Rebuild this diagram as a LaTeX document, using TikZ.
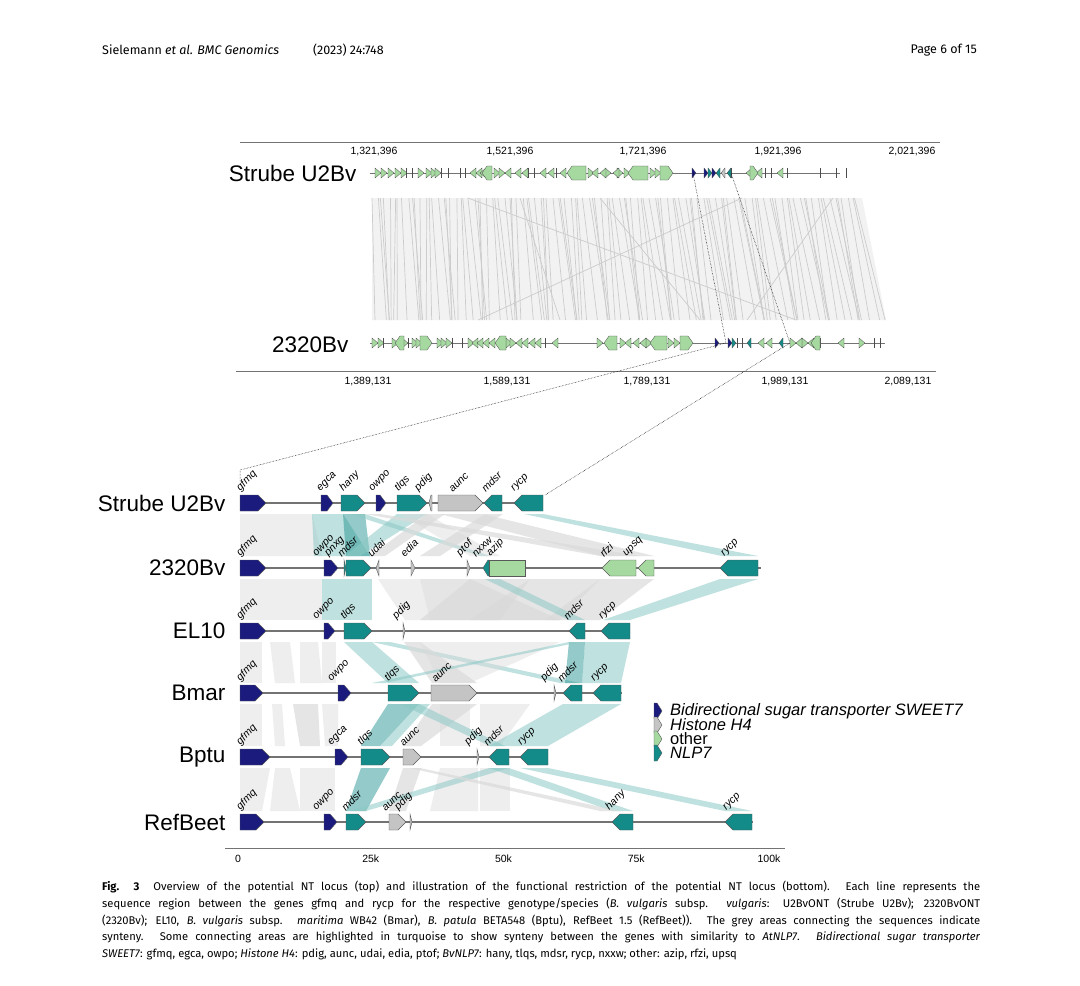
\documentclass[tikz,border=0pt]{standalone}
\usepackage{fontspec}
\setmainfont{Liberation Sans}
\newfontfamily\capfont{Fira Sans}
\definecolor{navy}{HTML}{1B1B7E}
\definecolor{teal2}{HTML}{138B88}
\definecolor{hgrey}{HTML}{C4C4C4}
\definecolor{ogreen}{HTML}{A6D9A0}
\definecolor{tband}{HTML}{8CC9C5}
\definecolor{gband}{HTML}{DADADA}
\newcommand\gR[5]{\filldraw[fill=#5,draw=black!65,line width=0.4] (#1,#3-8) -- (#2-#4,#3-8) -- (#2,#3) -- (#2-#4,#3+8) -- (#1,#3+8) -- cycle;}
\newcommand\gL[5]{\filldraw[fill=#5,draw=black!65,line width=0.4] (#2,#3-8) -- (#1+#4,#3-8) -- (#1,#3) -- (#1+#4,#3+8) -- (#2,#3+8) -- cycle;}
\newcommand\glab[3]{\node[glab] at (#1,#2-10) {#3};}
\newcommand\band[7]{\fill[#7] (#1,#3) -- (#2,#3) -- (#5,#6) -- (#4,#6) -- cycle;}
\newcommand\gtR[2]{\filldraw[fill=ogreen,draw=black!70,line width=0.3] (#1,#2-5) -- (#1+6,#2) -- (#1,#2+5) -- cycle;}
\newcommand\gtL[2]{\filldraw[fill=ogreen,draw=black!70,line width=0.3] (#1+6,#2-5) -- (#1,#2) -- (#1+6,#2+5) -- cycle;}
\newcommand\gtT[2]{\draw[black!70,line width=0.5] (#1,#2-5) -- (#1,#2+5);}
\newcommand\bigR[3]{\filldraw[fill=ogreen,draw=black!70,line width=0.3] (#1,#3-7) -- (#2-5,#3-7) -- (#2,#3) -- (#2-5,#3+7) -- (#1,#3+7) -- cycle;}
\newcommand\bigL[3]{\filldraw[fill=ogreen,draw=black!70,line width=0.3] (#2,#3-7) -- (#1+5,#3-7) -- (#1,#3) -- (#1+5,#3+7) -- (#2,#3+7) -- cycle;}
\newcommand\colR[3]{\filldraw[fill=#3,draw=black!70,line width=0.3] (#1,#2-5) -- (#1+4,#2) -- (#1,#2+5) -- cycle;}
\newcommand\colL[3]{\filldraw[fill=#3,draw=black!70,line width=0.3] (#1+4,#2-5) -- (#1,#2) -- (#1+4,#2+5) -- cycle;}
\tikzset{
 glab/.style={anchor=south west,rotate=45,inner sep=0,font=\fontsize{10.5}{11}\selectfont\itshape},
 tlab/.style={anchor=east,font=\fontsize{22.5}{24}\selectfont},
 ticklab/.style={font=\fontsize{10.5}{11}\selectfont},
 track/.style={draw=black!55,line width=1.1},
 gb/.style={fill=gband,opacity=0.45},
 gbd/.style={fill=gband,opacity=0.7},
 tb/.style={fill=tband,opacity=0.55},
 tbd/.style={fill=teal2,opacity=0.45},
 dotl/.style={densely dotted,line width=0.5},
 captxt/.style={anchor=north west,inner sep=0,font=\capfont\fontsize{11.2}{13}\selectfont}
}
\begin{document}
\begin{tikzpicture}[x=1pt,y=-1pt]
\useasboundingbox (0,0) rectangle (1080,986);
\fill[white] (0,0) rectangle (1080,986);
% header
\node[anchor=west,inner sep=0,font=\capfont\fontsize{12.5}{13}\selectfont] (hd) at (102,50) {Sielemann \textit{et al. BMC Genomics}\hspace{34pt}(2023) 24:748};
\node[anchor=east,inner sep=0,font=\capfont\fontsize{12.5}{13}\selectfont] (pg) at (977,50) {Page 6 of 15};
% ===== top overview =====
\draw[black!55,line width=1] (240,142) -- (940,142);
\draw[black!55,line width=1] (236,371) -- (936,371);
\node[ticklab] (tt1) at (374,152) {1,321,396};
\node[ticklab] (tt2) at (510,152) {1,521,396};
\node[ticklab] (tt3) at (643,152) {1,721,396};
\node[ticklab] (tt4) at (778,152) {1,921,396};
\node[ticklab] (tt5) at (912,152) {2,021,396};
\node[ticklab] (bt1) at (368,381) {1,389,131};
\node[ticklab] (bt2) at (507,381) {1,589,131};
\node[ticklab] (bt3) at (647,381) {1,789,131};
\node[ticklab] (bt4) at (785,381) {1,989,131};
\node[ticklab] (bt5) at (908,381) {2,089,131};
\node[tlab] (sU) at (360,173) {Strube U2Bv};
\node[tlab] (s23) at (352,345) {2320Bv};
% synteny region
\fill[black!5] (372,198) -- (862,198) -- (886,320) -- (372,320) -- cycle;
\begin{scope}[line width=0.7,draw=black!20]
\foreach \i in {0,...,110}{
  \pgfmathsetmacro{\xa}{372+\i*4.4+2*sin(\i*97)}
  \pgfmathsetmacro{\xb}{\xa+\i*0.2+6*sin(\i*53)+3}
  \draw (\xa,198) -- (\xb,320);
}
\draw (468,198) -- (796,320);
\draw (742,198) -- (478,320);
\draw (833,198) -- (747,320);
\draw (520,198) -- (560,320);
\draw (600,198) -- (700,320);
\end{scope}
% tracks top
\draw[track,line width=0.9] (370,173) -- (840,173);
\draw[track,line width=0.9] (370,343) -- (885,343);
\foreach \x in {375,381,388,395,401,418,426,431,435,494,499,588,605,617,624,650,655} {\gtR{\x}{173}}
\foreach \x in {470,476,480,505,515,522,540,548,560,592,600,613,746,756,777} {\gtL{\x}{173}}
\foreach \x in {406,412,441,448,460,465,528,534,556,765,771,787,820,836,846} {\gtT{\x}{173}}
\bigL{482}{492}{173}
\bigL{567}{586}{173}
\bigL{628}{648}{173}
\bigR{660}{673}{173}
\bigR{750}{758}{173}
\colR{692}{173}{navy}
\colR{704}{173}{navy}
\colR{708}{173}{teal2}
\colR{712}{173}{navy}
\colL{716}{173}{teal2}
\colL{721}{173}{hgrey}
\colL{727}{173}{teal2}
\gtT{731}{173}
%
\foreach \x in {372,378,392,402,412,416,437,441,446,468,506,510,597,620,646,668,674,790,802,859} {\gtR{\x}{343}}
\foreach \x in {472,477,483,489,516,522,529,535,552,625,633,640,758,766,796,808,838} {\gtL{\x}{343}}
\foreach \x in {383,408,452,462,545,737,742,820,874,880} {\gtT{\x}{343}}
\bigL{395}{404}{343}
\bigR{420}{432}{343}
\bigL{495}{506}{343}
\bigL{604}{617}{343}
\bigL{650}{667}{343}
\bigR{680}{693}{343}
\bigL{811}{820}{343}
\colR{715}{343}{navy}
\colR{728}{343}{navy}
\colR{732}{343}{teal2}
\colL{747}{343}{teal2}
\colL{779}{343}{teal2}
% dotted zoom lines
\coordinate (z1) at (693,173);
\coordinate (z2) at (726,343);
\coordinate (z3) at (731,173);
\coordinate (z4) at (790,343);
\coordinate (z5) at (240,470);
\coordinate (z6) at (240,484);
\coordinate (z7) at (545,495);
\draw[dotl] (z1) -- (z2) -- (z5) -- (z6);
\draw[dotl] (z3) -- (z4) -- (z7);
% ===== bottom detailed =====
\band{240}{312}{514}{240}{322}{556}{gb}
\band{312}{343}{514}{314}{370}{556}{tb}
\band{343}{365}{514}{346}{370}{556}{tbd}
\band{350}{365}{514}{480}{490}{556}{tb}
\band{397}{427}{514}{345}{360}{556}{tb}
\band{440}{483}{514}{602}{654}{556}{gbd}
\band{400}{427}{514}{470}{500}{556}{gb}
\band{427}{445}{514}{370}{385}{556}{gbd}
\band{485}{503}{514}{420}{440}{556}{gbd}
\band{365}{380}{514}{600}{640}{556}{gbd}
\band{524}{543}{514}{722}{758}{556}{tb}
\band{240}{322}{579}{240}{322}{620}{gb}
\band{322}{372}{579}{322}{372}{620}{tb}
\band{378}{420}{579}{405}{430}{620}{gb}
\band{420}{470}{579}{430}{560}{620}{gbd}
\band{470}{530}{579}{420}{500}{620}{gbd}
\band{530}{600}{579}{470}{560}{620}{gbd}
\band{600}{654}{579}{545}{600}{620}{gbd}
\band{485}{500}{579}{569}{585}{620}{tb}
\band{720}{758}{579}{603}{630}{620}{tb}
\band{240}{262}{642}{240}{262}{683}{gb}
\band{270}{290}{642}{275}{295}{683}{gb}
\band{300}{318}{642}{300}{322}{683}{gb}
\band{322}{336}{642}{322}{336}{683}{gb}
\band{344}{372}{642}{388}{419}{683}{tb}
\band{372}{390}{642}{560}{580}{683}{tb}
\band{404}{420}{642}{432}{477}{683}{gbd}
\band{420}{560}{642}{440}{470}{683}{gb}
\band{585}{630}{642}{582}{621}{683}{tb}
\band{569}{585}{642}{565}{582}{683}{tbd}
\band{569}{580}{642}{372}{385}{683}{tb}
\band{240}{262}{704}{240}{262}{746}{gb}
\band{272}{282}{704}{275}{285}{746}{gb}
\band{293}{318}{704}{300}{320}{746}{gbd}
\band{322}{338}{704}{325}{338}{746}{gb}
\band{388}{419}{704}{361}{380}{746}{tbd}
\band{419}{430}{704}{380}{392}{746}{tb}
\band{432}{477}{704}{403}{421}{746}{gbd}
\band{440}{470}{704}{440}{470}{746}{gb}
\band{480}{530}{704}{480}{500}{746}{gb}
\band{563}{621}{704}{489}{548}{746}{tb}
\band{400}{419}{704}{490}{505}{746}{tb}
\band{240}{270}{768}{240}{262}{811}{gb}
\band{275}{290}{768}{270}{300}{811}{gb}
\band{300}{335}{768}{300}{335}{811}{gb}
\band{403}{421}{768}{389}{406}{811}{gbd}
\band{440}{478}{768}{430}{478}{811}{gb}
\band{480}{510}{768}{480}{510}{811}{gb}
\band{361}{390}{768}{346}{366}{811}{tbd}
\band{489}{509}{768}{612}{633}{811}{tb}
\band{520}{548}{768}{725}{752}{811}{tb}
\band{489}{509}{768}{350}{366}{811}{tb}
\band{410}{420}{768}{600}{620}{811}{gbd}
% track labels
\node[tlab] (l1) at (229,503) {Strube U2Bv};
\node[tlab] (l2) at (229,568) {2320Bv};
\node[tlab] (l3) at (229,631) {EL10};
\node[tlab] (l4) at (229,693) {Bmar};
\node[tlab] (l5) at (229,757) {Bptu};
\node[tlab] (l6) at (229,822) {RefBeet};
\draw[track] (240,503) -- (543,503);
\draw[track] (240,568) -- (761,568);
\draw[track] (240,631) -- (630,631);
\draw[track] (240,693) -- (622,693);
\draw[track] (240,757) -- (548,757);
\draw[track] (240,822) -- (753,822);
% Strube
\gR{240}{266}{503}{8}{navy}\glab{242}{503}{gfmq}
\gR{321}{333}{503}{6}{navy}\glab{322}{503}{egca}
\gR{341}{365}{503}{8}{teal2}\glab{345}{503}{hany}
\gR{376}{386}{503}{6}{navy}\glab{374}{503}{owpo}
\gR{397}{427}{503}{8}{teal2}\glab{400}{503}{tlqs}
\gL{429}{432}{503}{2}{hgrey}\glab{420}{503}{pdig}
\gR{438}{483}{503}{8}{hgrey}\glab{453}{503}{aunc}
\gL{484}{502}{503}{8}{teal2}\glab{486}{503}{mdsr}
\gL{514}{543}{503}{8}{teal2}\glab{516}{503}{rycp}
% 2320Bv
\gR{240}{266}{568}{8}{navy}\glab{242}{568}{gfmq}
\gR{324}{338}{568}{7}{navy}\glab{318}{568}{owpo}
\gR{344}{346}{568}{2}{teal2}\glab{330}{568}{pnxg}
\gR{346}{371}{568}{8}{teal2}\glab{342}{568}{mdsr}
\gL{376}{379}{568}{3}{hgrey}\glab{372}{568}{udai}
\gR{411}{415}{568}{4}{hgrey}\glab{405}{568}{edia}
\gR{467}{470}{568}{3}{hgrey}\glab{462}{568}{ptof}
\gL{483}{489}{568}{5}{teal2}\glab{476}{568}{nxxw}
\filldraw[fill=ogreen,draw=black!65,line width=0.4] (489,560) rectangle (525,576);
\glab{492}{568}{azip}
\gL{602}{636}{568}{8}{ogreen}\glab{604}{568}{rfzi}
\gL{638}{654}{568}{8}{ogreen}\glab{628}{568}{upsq}
\gL{720}{758}{568}{8}{teal2}\glab{726}{568}{rycp}
% EL10
\gR{240}{266}{631}{8}{navy}\glab{242}{631}{gfmq}
\gR{324}{335}{631}{7}{navy}\glab{318}{631}{owpo}
\gR{344}{372}{631}{8}{teal2}\glab{346}{631}{tlqs}
\gR{403}{405}{631}{2}{hgrey}\glab{398}{631}{pdig}
\gL{569}{585}{631}{8}{teal2}\glab{568}{631}{mdsr}
\gL{601}{630}{631}{8}{teal2}\glab{604}{631}{rycp}
% Bmar
\gR{240}{263}{693}{8}{navy}\glab{242}{693}{gfmq}
\gR{338}{351}{693}{7}{navy}\glab{333}{693}{owpo}
\gR{388}{419}{693}{8}{teal2}\glab{390}{693}{tlqs}
\gR{431}{477}{693}{8}{hgrey}\glab{436}{693}{aunc}
\gR{554}{556}{693}{2}{hgrey}\glab{546}{693}{pdig}
\gL{563}{582}{693}{8}{teal2}\glab{562}{693}{mdsr}
\gL{593}{621}{693}{8}{teal2}\glab{596}{693}{rycp}
% Bptu
\gR{240}{270}{757}{8}{navy}\glab{242}{757}{gfmq}
\gR{335}{348}{757}{7}{navy}\glab{333}{757}{egca}
\gR{361}{390}{757}{8}{teal2}\glab{363}{757}{tlqs}
\gR{403}{421}{757}{8}{hgrey}\glab{404}{757}{aunc}
\gR{477}{479}{757}{2}{hgrey}\glab{470}{757}{pdig}
\gL{489}{509}{757}{8}{teal2}\glab{488}{757}{mdsr}
\gL{520}{548}{757}{8}{teal2}\glab{523}{757}{rycp}
% RefBeet
\gR{240}{264}{822}{8}{navy}\glab{242}{822}{gfmq}
\gR{324}{337}{822}{7}{navy}\glab{318}{822}{owpo}
\gR{346}{366}{822}{8}{teal2}\glab{346}{822}{mdsr}
\gR{389}{406}{822}{8}{hgrey}\glab{386}{822}{aunc}
\gR{410}{412}{822}{2}{hgrey}\glab{400}{822}{pdig}
\gL{612}{633}{822}{8}{teal2}\glab{611}{822}{hany}
\gL{725}{752}{822}{8}{teal2}\glab{728}{822}{rycp}
% axis
\draw[black!55,line width=1] (225,848) -- (785,848);
\node[ticklab] (ax1) at (238,859) {0};
\node[ticklab] (ax2) at (370.75,859) {25k};
\node[ticklab] (ax3) at (503.5,859) {50k};
\node[ticklab] (ax4) at (636.25,859) {75k};
\node[ticklab] (ax5) at (769,859) {100k};
% legend
\gR{654}{662}{711}{5}{navy}
\gR{654}{662}{725}{5}{hgrey}
\gR{654}{662}{739}{5}{ogreen}
\gR{654}{662}{753}{5}{teal2}
\node[anchor=west,inner sep=0,font=\fontsize{16.5}{17}\selectfont\itshape] (lg1) at (670,711) {Bidirectional sugar transporter SWEET7};
\node[anchor=west,inner sep=0,font=\fontsize{16.5}{17}\selectfont\itshape] (lg2) at (670,725) {Histone H4};
\node[anchor=west,inner sep=0,font=\fontsize{16.5}{17}\selectfont] (lg3) at (670,739) {other};
\node[anchor=west,inner sep=0,font=\fontsize{16.5}{17}\selectfont\itshape] (lg4) at (670,753) {NLP7};
% caption
\node[captxt] (c1) at (102,881) {\hbox to 878pt{\textbf{Fig. 3}\ \ Overview of the potential NT locus (top) and illustration of the functional restriction of the potential NT locus (bottom). Each line represents the}};
\node[captxt] (c2) at (102,898) {\hbox to 878pt{sequence region between the genes gfmq and rycp for the respective genotype/species (\textit{B. vulgaris} subsp. \textit{vulgaris}: U2BvONT (Strube U2Bv); 2320BvONT}};
\node[captxt] (c3) at (102,915) {\hbox to 878pt{(2320Bv); EL10, \textit{B. vulgaris} subsp. \textit{maritima} WB42 (Bmar), \textit{B. patula} BETA548 (Bptu), RefBeet 1.5 (RefBeet)). The grey areas connecting the sequences indicate}};
\node[captxt] (c4) at (102,932) {\hbox to 878pt{synteny. Some connecting areas are highlighted in turquoise to show synteny between the genes with similarity to \textit{AtNLP7}. \textit{Bidirectional sugar transporter}}};
\node[captxt] (c5) at (102,949) {\textit{SWEET7}: gfmq, egca, owpo; \textit{Histone H4}: pdig, aunc, udai, edia, ptof; \textit{BvNLP7}: hany, tlqs, mdsr, rycp, nxxw; other: azip, rfzi, upsq};
\end{tikzpicture}
\end{document}
